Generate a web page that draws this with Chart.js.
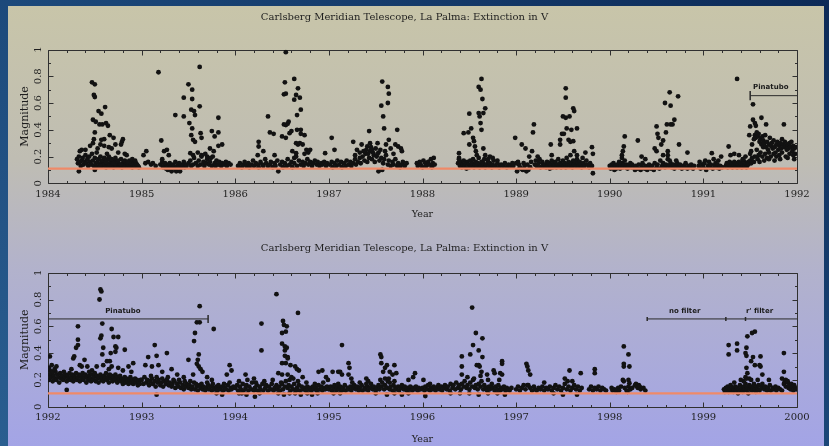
<!DOCTYPE html>
<html><head><meta charset="utf-8">
<script src="https://cdn.jsdelivr.net/npm/chart.js@4.4.1/dist/chart.umd.min.js"></script>
<style>
html,body{margin:0;padding:0;}
body{width:829px;height:446px;overflow:hidden;position:relative;background:linear-gradient(30deg,#2a5e90 0%,#1d4b7d 45%,#0c2a57 100%);}
#panel{position:absolute;left:8px;top:6px;width:816px;height:440px;background:linear-gradient(to bottom,#c8c5a9 0%,#bfbdb3 35%,#b2b2cc 60%,#a3a4e6 100%);}
canvas{position:absolute;left:0;}
#c1{top:0;} #c2{top:222px;}
</style></head><body>
<div id="panel"></div>
<canvas id="c1" width="829" height="222" style="width:829px;height:222px"></canvas>
<canvas id="c2" width="829" height="224" style="width:829px;height:224px"></canvas>
<script>
// ---------- data: [decimal year, extinction magnitude] ----------
const t1984 = [[1984.31,.18],[1984.32,.15],[1984.33,.2],[1984.34,.16],[1984.35,.13],[1984.36,.17],[1984.37,.19],[1984.38,.14],[1984.39,.16],[1984.40,.21],[1984.41,.15],[1984.42,.18],[1984.43,.13],[1984.44,.2],[1984.45,.16],[1984.46,.14],[1984.47,.22],[1984.48,.17],[1984.49,.13],[1984.50,.19],[1984.51,.15],[1984.52,.12],[1984.53,.16],[1984.54,.18],[1984.55,.14],[1984.56,.2],[1984.57,.15],[1984.58,.13],[1984.59,.17],[1984.60,.14],[1984.61,.16],[1984.62,.12],[1984.63,.15],[1984.64,.18],[1984.65,.13],[1984.66,.14],[1984.67,.16],[1984.68,.13],[1984.69,.15],[1984.70,.12],[1984.71,.17],[1984.72,.14],[1984.73,.13],[1984.74,.16],[1984.75,.15],[1984.76,.13],[1984.77,.14],[1984.78,.18],[1984.79,.12],[1984.80,.15],[1984.81,.14],[1984.82,.13],[1984.83,.16],[1984.84,.15],[1984.85,.13],[1984.86,.14],[1984.87,.17],[1984.88,.13],[1984.89,.15],[1984.90,.12],[1984.91,.14],[1984.92,.16],[1984.93,.13],[1984.94,.15],[1984.95,.14],[1984.96,.13],[1984.97,.12],[1984.56,.13],[1984.58,.17],[1984.60,.19],[1984.62,.16],[1984.65,.2],[1984.68,.18],[1984.70,.15],[1984.72,.19],[1984.75,.17],[1984.78,.14],[1984.82,.17],[1984.85,.16],[1984.90,.18],[1984.93,.17],[1984.34,.24],[1984.36,.25],[1984.40,.25],[1984.33,.09],[1984.50,.1],[1984.47,.755],[1984.50,.74],[1984.49,.66],[1984.50,.645],[1984.54,.54],[1984.57,.52],[1984.61,.57],[1984.48,.475],[1984.51,.46],[1984.55,.44],[1984.58,.44],[1984.62,.45],[1984.64,.43],[1984.50,.38],[1984.49,.33],[1984.57,.325],[1984.60,.33],[1984.56,.29],[1984.60,.28],[1984.65,.27],[1984.68,.26],[1984.53,.26],[1984.48,.3],[1984.66,.36],[1984.70,.34],[1984.80,.33],[1984.79,.31],[1984.78,.29],[1984.72,.29],[1984.82,.22],[1984.84,.21],[1984.75,.23],[1984.63,.22],[1984.52,.23],[1984.45,.28]];
const t1985 = [[1985.02,.21],[1985.05,.24],[1985.04,.15],[1985.07,.16],[1985.10,.14],[1985.12,.15],[1985.15,.13],[1985.18,.83],[1985.21,.32],[1985.20,.14],[1985.22,.16],[1985.23,.12],[1985.24,.13],[1985.25,.15],[1985.26,.11],[1985.27,.14],[1985.28,.1],[1985.29,.13],[1985.30,.15],[1985.31,.12],[1985.32,.09],[1985.33,.14],[1985.34,.13],[1985.35,.11],[1985.36,.16],[1985.37,.09],[1985.38,.13],[1985.39,.12],[1985.40,.15],[1985.41,.09],[1985.42,.14],[1985.43,.12],[1985.44,.13],[1985.45,.16],[1985.46,.12],[1985.47,.14],[1985.48,.13],[1985.50,.15],[1985.52,.17],[1985.53,.13],[1985.55,.14],[1985.56,.19],[1985.58,.15],[1985.60,.13],[1985.61,.17],[1985.63,.14],[1985.64,.2],[1985.66,.16],[1985.67,.13],[1985.69,.15],[1985.70,.18],[1985.72,.14],[1985.73,.16],[1985.75,.13],[1985.76,.2],[1985.78,.15],[1985.79,.13],[1985.80,.17],[1985.82,.14],[1985.83,.16],[1985.85,.13],[1985.86,.15],[1985.88,.14],[1985.90,.16],[1985.91,.13],[1985.93,.15],[1985.95,.14],[1985.24,.24],[1985.27,.25],[1985.29,.21],[1985.22,.18],[1985.50,.74],[1985.54,.7],[1985.45,.64],[1985.54,.63],[1985.62,.87],[1985.62,.575],[1985.53,.55],[1985.56,.54],[1985.57,.51],[1985.36,.51],[1985.45,.5],[1985.51,.45],[1985.54,.41],[1985.53,.36],[1985.55,.325],[1985.57,.31],[1985.63,.375],[1985.64,.34],[1985.82,.49],[1985.75,.39],[1985.78,.35],[1985.82,.38],[1985.86,.29],[1985.82,.28],[1985.73,.26],[1985.77,.24],[1985.64,.21],[1985.68,.22],[1985.52,.225],[1985.55,.21],[1985.60,.23],[1985.70,.2],[1985.74,.19]];
const t1986 = [[1986.03,.13],[1986.05,.15],[1986.07,.12],[1986.09,.14],[1986.10,.16],[1986.12,.13],[1986.14,.15],[1986.15,.12],[1986.17,.14],[1986.19,.17],[1986.20,.13],[1986.22,.15],[1986.24,.14],[1986.25,.12],[1986.27,.16],[1986.29,.14],[1986.30,.13],[1986.32,.18],[1986.33,.15],[1986.35,.13],[1986.37,.14],[1986.38,.16],[1986.40,.12],[1986.42,.15],[1986.43,.13],[1986.45,.17],[1986.46,.09],[1986.48,.14],[1986.50,.16],[1986.51,.12],[1986.53,.15],[1986.55,.13],[1986.56,.18],[1986.58,.14],[1986.60,.16],[1986.61,.12],[1986.63,.15],[1986.65,.2],[1986.66,.13],[1986.68,.17],[1986.70,.14],[1986.72,.16],[1986.73,.13],[1986.75,.15],[1986.77,.18],[1986.78,.14],[1986.80,.16],[1986.82,.13],[1986.83,.15],[1986.85,.17],[1986.87,.14],[1986.88,.16],[1986.90,.13],[1986.92,.15],[1986.93,.14],[1986.95,.16],[1986.97,.13],[1986.98,.15],[1986.25,.275],[1986.25,.31],[1986.35,.5],[1986.37,.38],[1986.41,.37],[1986.24,.21],[1986.30,.24],[1986.42,.21],[1986.54,.98],[1986.53,.755],[1986.63,.78],[1986.52,.665],[1986.54,.67],[1986.65,.66],[1986.63,.625],[1986.67,.71],[1986.69,.64],[1986.70,.55],[1986.66,.51],[1986.52,.44],[1986.54,.435],[1986.56,.445],[1986.57,.46],[1986.50,.35],[1986.54,.34],[1986.58,.375],[1986.60,.39],[1986.66,.4],[1986.65,.3],[1986.67,.29],[1986.61,.24],[1986.65,.225],[1986.63,.19],[1986.70,.4],[1986.74,.36],[1986.70,.37],[1986.69,.3],[1986.72,.29],[1986.76,.25],[1986.80,.25],[1986.78,.23],[1986.74,.22],[1986.96,.225]];
const t1987 = [[1987.01,.14],[1987.03,.16],[1987.04,.12],[1987.06,.15],[1987.08,.13],[1987.09,.17],[1987.11,.14],[1987.13,.16],[1987.14,.12],[1987.16,.15],[1987.18,.13],[1987.19,.17],[1987.21,.14],[1987.23,.16],[1987.24,.13],[1987.26,.15],[1987.28,.18],[1987.29,.14],[1987.31,.16],[1987.33,.19],[1987.34,.15],[1987.36,.2],[1987.38,.17],[1987.39,.22],[1987.41,.16],[1987.43,.19],[1987.44,.24],[1987.46,.18],[1987.48,.21],[1987.49,.16],[1987.51,.2],[1987.53,.23],[1987.54,.17],[1987.56,.19],[1987.58,.15],[1987.59,.18],[1987.61,.21],[1987.63,.14],[1987.64,.17],[1987.66,.13],[1987.68,.16],[1987.69,.14],[1987.71,.18],[1987.73,.13],[1987.74,.15],[1987.76,.12],[1987.78,.14],[1987.79,.16],[1987.81,.13],[1987.83,.15],[1987.53,.09],[1987.57,.1],[1987.40,.25],[1987.42,.22],[1987.45,.27],[1987.47,.23],[1987.50,.26],[1987.52,.22],[1987.55,.25],[1987.60,.24],[1987.37,.24],[1987.33,.23],[1987.03,.34],[1987.06,.25],[1987.26,.31],[1987.30,.25],[1987.28,.21],[1987.43,.39],[1987.35,.29],[1987.41,.275],[1987.44,.3],[1987.46,.25],[1987.52,.3],[1987.57,.76],[1987.63,.72],[1987.64,.67],[1987.63,.6],[1987.56,.58],[1987.58,.5],[1987.59,.41],[1987.61,.29],[1987.64,.325],[1987.73,.4],[1987.71,.29],[1987.74,.275],[1987.77,.26],[1987.78,.24],[1987.66,.26],[1987.69,.22]];
const t1988 = [[1987.94,.15],[1987.95,.13],[1987.97,.16],[1987.98,.14],[1988.00,.12],[1988.01,.17],[1988.03,.15],[1988.04,.13],[1988.06,.16],[1988.07,.14],[1988.09,.18],[1988.10,.12],[1988.11,.15],[1988.12,.19],[1988.13,.14],[1988.38,.15],[1988.39,.18],[1988.40,.13],[1988.41,.16],[1988.42,.12],[1988.43,.14],[1988.44,.17],[1988.45,.13],[1988.46,.15],[1988.47,.11],[1988.48,.16],[1988.49,.14],[1988.50,.12],[1988.51,.17],[1988.52,.13],[1988.53,.15],[1988.54,.18],[1988.55,.12],[1988.56,.14],[1988.57,.16],[1988.58,.13],[1988.59,.15],[1988.60,.19],[1988.61,.12],[1988.62,.14],[1988.63,.16],[1988.64,.13],[1988.65,.15],[1988.66,.18],[1988.67,.12],[1988.68,.14],[1988.70,.16],[1988.71,.13],[1988.72,.15],[1988.74,.12],[1988.75,.14],[1988.76,.17],[1988.78,.13],[1988.80,.15],[1988.82,.12],[1988.84,.14],[1988.86,.13],[1988.88,.15],[1988.90,.12],[1988.92,.14],[1988.94,.13],[1988.96,.15],[1988.39,.225],[1988.39,.19],[1988.44,.375],[1988.49,.38],[1988.52,.41],[1988.50,.52],[1988.50,.29],[1988.54,.34],[1988.55,.315],[1988.56,.275],[1988.57,.24],[1988.58,.21],[1988.60,.72],[1988.62,.7],[1988.63,.78],[1988.64,.63],[1988.60,.525],[1988.61,.5],[1988.65,.525],[1988.67,.56],[1988.62,.45],[1988.63,.4],[1988.65,.26],[1988.67,.21],[1988.70,.18],[1988.72,.2],[1988.75,.19],[1988.80,.17]];
const t1989 = [[1988.97,.13],[1988.99,.34],[1989.00,.15],[1989.01,.09],[1989.03,.14],[1989.04,.12],[1989.06,.29],[1989.07,.1],[1989.08,.15],[1989.09,.13],[1989.10,.26],[1989.11,.09],[1989.12,.14],[1989.14,.2],[1989.15,.12],[1989.16,.16],[1989.17,.24],[1989.19,.44],[1989.18,.38],[1989.20,.14],[1989.21,.17],[1989.22,.13],[1989.24,.15],[1989.25,.18],[1989.26,.12],[1989.28,.16],[1989.29,.14],[1989.30,.13],[1989.02,.16],[1989.05,.11],[1989.13,.1],[1989.23,.2],[1989.31,.14],[1989.32,.12],[1989.33,.16],[1989.34,.13],[1989.35,.15],[1989.36,.11],[1989.37,.14],[1989.38,.17],[1989.39,.12],[1989.40,.15],[1989.41,.13],[1989.42,.16],[1989.43,.12],[1989.44,.14],[1989.45,.18],[1989.46,.13],[1989.47,.15],[1989.48,.12],[1989.49,.14],[1989.50,.17],[1989.51,.13],[1989.52,.15],[1989.53,.12],[1989.54,.19],[1989.55,.14],[1989.56,.16],[1989.57,.13],[1989.58,.21],[1989.59,.15],[1989.60,.12],[1989.61,.17],[1989.62,.14],[1989.63,.16],[1989.64,.13],[1989.65,.18],[1989.66,.15],[1989.67,.13],[1989.68,.16],[1989.69,.14],[1989.70,.12],[1989.72,.15],[1989.73,.13],[1989.75,.17],[1989.76,.14],[1989.78,.12],[1989.79,.15],[1989.81,.13],[1989.37,.29],[1989.38,.21],[1989.47,.325],[1989.47,.29],[1989.49,.37],[1989.51,.37],[1989.50,.5],[1989.53,.49],[1989.53,.71],[1989.53,.64],[1989.61,.56],[1989.62,.54],[1989.57,.5],[1989.54,.41],[1989.59,.4],[1989.65,.41],[1989.56,.325],[1989.58,.31],[1989.61,.315],[1989.62,.24],[1989.65,.21],[1989.74,.23],[1989.71,.19],[1989.81,.27],[1989.82,.22],[1989.82,.075]];
const t1990 = [[1990.00,.13],[1990.01,.11],[1990.02,.14],[1990.03,.12],[1990.04,.15],[1990.05,.1],[1990.06,.13],[1990.07,.11],[1990.08,.14],[1990.09,.12],[1990.10,.16],[1990.11,.11],[1990.12,.13],[1990.13,.15],[1990.14,.12],[1990.15,.14],[1990.16,.35],[1990.15,.275],[1990.14,.24],[1990.13,.21],[1990.13,.19],[1990.16,.17],[1990.17,.12],[1990.18,.14],[1990.19,.11],[1990.20,.13],[1990.22,.15],[1990.23,.12],[1990.24,.14],[1990.30,.32],[1990.25,.12],[1990.27,.1],[1990.28,.13],[1990.30,.11],[1990.31,.14],[1990.33,.1],[1990.34,.12],[1990.35,.15],[1990.37,.11],[1990.38,.13],[1990.40,.1],[1990.41,.12],[1990.42,.14],[1990.44,.11],[1990.45,.13],[1990.47,.1],[1990.48,.15],[1990.50,.12],[1990.51,.14],[1990.53,.11],[1990.54,.17],[1990.56,.13],[1990.57,.15],[1990.59,.12],[1990.60,.14],[1990.62,.18],[1990.63,.13],[1990.65,.15],[1990.66,.12],[1990.68,.14],[1990.69,.11],[1990.71,.13],[1990.72,.15],[1990.74,.12],[1990.75,.14],[1990.77,.11],[1990.78,.13],[1990.80,.12],[1990.81,.15],[1990.83,.11],[1990.84,.13],[1990.86,.12],[1990.87,.14],[1990.89,.11],[1990.90,.13],[1990.34,.2],[1990.38,.18],[1990.50,.425],[1990.51,.37],[1990.52,.34],[1990.48,.26],[1990.50,.24],[1990.55,.29],[1990.57,.32],[1990.59,.6],[1990.60,.38],[1990.61,.44],[1990.64,.68],[1990.65,.58],[1990.67,.44],[1990.69,.475],[1990.65,.44],[1990.73,.65],[1990.57,.21],[1990.62,.21],[1990.64,.17],[1990.74,.29],[1990.83,.23],[1990.71,.17],[1990.62,.24]];
const t1991 = [[1990.95,.13],[1990.96,.16],[1990.97,.11],[1990.99,.14],[1991.00,.12],[1991.01,.15],[1991.02,.17],[1991.03,.1],[1991.05,.13],[1991.06,.16],[1991.07,.12],[1991.08,.14],[1991.09,.225],[1991.10,.11],[1991.11,.18],[1991.12,.13],[1991.13,.15],[1991.14,.12],[1991.15,.14],[1991.16,.17],[1991.17,.11],[1991.18,.13],[1991.19,.2],[1991.20,.12],[1991.24,.13],[1991.25,.15],[1991.26,.12],[1991.27,.275],[1991.27,.14],[1991.28,.16],[1991.29,.13],[1991.29,.21],[1991.30,.15],[1991.31,.12],[1991.32,.14],[1991.33,.16],[1991.33,.22],[1991.34,.13],[1991.35,.15],[1991.36,.78],[1991.36,.12],[1991.37,.14],[1991.38,.21],[1991.38,.16],[1991.39,.13],[1991.40,.15],[1991.41,.12],[1991.42,.14],[1991.43,.17],[1991.44,.13],[1991.45,.15],[1991.46,.12],[1991.47,.14],[1991.48,.16],[1991.45,.2],[1991.42,.18]];
const t1991p = [[1991.49,.36],[1991.50,.425],[1991.53,.59],[1991.53,.475],[1991.55,.45],[1991.56,.43],[1991.62,.49],[1991.67,.44],[1991.50,.22],[1991.51,.24],[1991.52,.29],[1991.54,.33],[1991.55,.36],[1991.56,.34],[1991.57,.38],[1991.58,.35],[1991.59,.37],[1991.60,.31],[1991.61,.33],[1991.62,.29],[1991.63,.35],[1991.64,.32],[1991.64,.27],[1991.65,.3],[1991.66,.36],[1991.67,.27],[1991.68,.31],[1991.69,.25],[1991.70,.29],[1991.71,.34],[1991.72,.28],[1991.73,.3],[1991.74,.26],[1991.75,.32],[1991.76,.27],[1991.77,.23],[1991.78,.29],[1991.79,.31],[1991.80,.25],[1991.81,.28],[1991.82,.3],[1991.83,.26],[1991.84,.33],[1991.86,.44],[1991.85,.29],[1991.86,.27],[1991.87,.31],[1991.88,.28],[1991.89,.25],[1991.90,.29],[1991.91,.26],[1991.92,.3],[1991.93,.27],[1991.94,.31],[1991.95,.24],[1991.96,.28],[1991.97,.26],[1991.98,.22],[1991.99,.27],[1991.55,.2],[1991.57,.25],[1991.59,.21],[1991.61,.23],[1991.63,.2],[1991.66,.22],[1991.68,.19],[1991.70,.23],[1991.72,.2],[1991.75,.22],[1991.78,.2],[1991.81,.21],[1991.84,.23],[1991.88,.2],[1991.92,.22],[1991.96,.21],[1991.50,.17],[1991.52,.19],[1991.54,.16],[1991.58,.18],[1991.60,.16],[1991.65,.17],[1991.70,.18],[1991.76,.17],[1991.82,.18],[1991.90,.19],[1991.97,.18],[1991.48,.14],[1991.51,.15]];

const b1992 = [[1992.00,.24],[1992.01,.2],[1992.02,.27],[1992.03,.22],[1992.04,.25],[1992.05,.19],[1992.06,.23],[1992.07,.21],[1992.08,.26],[1992.09,.2],[1992.10,.24],[1992.11,.22],[1992.12,.18],[1992.13,.25],[1992.14,.21],[1992.15,.23],[1992.16,.2],[1992.17,.26],[1992.18,.22],[1992.19,.24],[1992.20,.19],[1992.21,.23],[1992.22,.21],[1992.23,.25],[1992.24,.2],[1992.25,.22],[1992.26,.24],[1992.27,.19],[1992.28,.23],[1992.29,.21],[1992.30,.25],[1992.31,.2],[1992.32,.22],[1992.33,.24],[1992.34,.19],[1992.35,.23],[1992.36,.21],[1992.37,.25],[1992.38,.2],[1992.39,.22],[1992.40,.24],[1992.41,.18],[1992.42,.22],[1992.43,.2],[1992.44,.23],[1992.45,.21],[1992.46,.19],[1992.47,.24],[1992.48,.2],[1992.49,.22],[1992.50,.25],[1992.51,.19],[1992.52,.23],[1992.53,.21],[1992.54,.18],[1992.55,.22],[1992.56,.24],[1992.57,.2],[1992.58,.22],[1992.59,.19],[1992.60,.23],[1992.61,.21],[1992.62,.25],[1992.63,.2],[1992.64,.22],[1992.65,.18],[1992.66,.24],[1992.67,.21],[1992.68,.23],[1992.69,.19],[1992.70,.22],[1992.71,.2],[1992.72,.24],[1992.73,.21],[1992.74,.18],[1992.75,.22],[1992.76,.2],[1992.77,.23],[1992.78,.19],[1992.79,.21],[1992.80,.17],[1992.81,.2],[1992.82,.22],[1992.83,.18],[1992.84,.21],[1992.85,.19],[1992.86,.17],[1992.87,.2],[1992.88,.22],[1992.89,.18],[1992.90,.2],[1992.91,.17],[1992.92,.19],[1992.93,.21],[1992.94,.18],[1992.95,.2],[1992.96,.16],[1992.97,.19],[1992.98,.17],[1992.99,.2],[1992.02,.375],[1992.04,.31],[1992.01,.29],[1992.05,.26],[1992.07,.28],[1992.09,.3],[1992.20,.125],[1992.27,.36],[1992.32,.6],[1992.32,.5],[1992.32,.46],[1992.30,.44],[1992.28,.375],[1992.34,.31],[1992.36,.3],[1992.39,.35],[1992.25,.28],[1992.42,.3],[1992.56,.875],[1992.57,.86],[1992.55,.8],[1992.58,.62],[1992.57,.53],[1992.56,.51],[1992.59,.44],[1992.58,.39],[1992.59,.31],[1992.63,.34],[1992.68,.58],[1992.70,.52],[1992.72,.45],[1992.73,.44],[1992.75,.52],[1992.72,.41],[1992.67,.4],[1992.66,.34],[1992.68,.3],[1992.75,.29],[1992.82,.425],[1992.91,.325],[1992.86,.3],[1992.89,.26],[1992.80,.27],[1992.65,.28],[1992.47,.27],[1992.52,.3],[1992.44,.26]];
const b1993 = [[1993.00,.2],[1993.02,.17],[1993.03,.22],[1993.05,.18],[1993.06,.2],[1993.08,.16],[1993.09,.19],[1993.11,.21],[1993.12,.17],[1993.14,.19],[1993.15,.15],[1993.17,.18],[1993.18,.2],[1993.20,.16],[1993.21,.18],[1993.23,.15],[1993.24,.19],[1993.26,.17],[1993.27,.2],[1993.29,.16],[1993.30,.18],[1993.32,.15],[1993.33,.17],[1993.35,.19],[1993.36,.14],[1993.38,.17],[1993.39,.15],[1993.41,.18],[1993.42,.14],[1993.44,.16],[1993.45,.13],[1993.47,.15],[1993.48,.17],[1993.50,.14],[1993.51,.16],[1993.53,.13],[1993.54,.15],[1993.56,.18],[1993.57,.13],[1993.59,.15],[1993.60,.12],[1993.62,.16],[1993.63,.14],[1993.65,.13],[1993.66,.15],[1993.68,.12],[1993.69,.14],[1993.71,.16],[1993.72,.13],[1993.74,.15],[1993.75,.12],[1993.77,.14],[1993.78,.13],[1993.80,.15],[1993.81,.12],[1993.83,.14],[1993.84,.13],[1993.86,.15],[1993.87,.12],[1993.89,.14],[1993.90,.13],[1993.92,.16],[1993.93,.12],[1993.95,.14],[1993.96,.13],[1993.98,.15],[1993.10,.23],[1993.16,.22],[1993.22,.21],[1993.28,.22],[1993.34,.2],[1993.40,.2],[1993.46,.19],[1993.52,.19],[1993.58,.17],[1993.64,.17],[1993.70,.18],[1993.76,.17],[1993.82,.16],[1993.88,.17],[1993.94,.18],[1993.07,.37],[1993.14,.46],[1993.16,.38],[1993.27,.4],[1993.04,.31],[1993.11,.3],[1993.18,.31],[1993.32,.28],[1993.22,.26],[1993.16,.09],[1993.50,.35],[1993.56,.49],[1993.57,.55],[1993.62,.75],[1993.59,.63],[1993.62,.63],[1993.61,.39],[1993.60,.35],[1993.59,.32],[1993.61,.3],[1993.63,.28],[1993.65,.26],[1993.77,.58],[1993.55,.24],[1993.80,.1],[1993.86,.09],[1993.94,.31],[1993.96,.27],[1993.91,.24],[1993.70,.22],[1993.75,.2],[1993.45,.22],[1993.38,.24]];
const b1994 = [[1994.00,.14],[1994.02,.16],[1994.03,.12],[1994.05,.15],[1994.06,.13],[1994.08,.17],[1994.09,.12],[1994.11,.14],[1994.12,.16],[1994.14,.12],[1994.15,.15],[1994.17,.13],[1994.18,.18],[1994.20,.12],[1994.21,.14],[1994.23,.16],[1994.24,.12],[1994.26,.15],[1994.27,.13],[1994.29,.17],[1994.30,.12],[1994.32,.14],[1994.33,.16],[1994.35,.12],[1994.36,.15],[1994.38,.13],[1994.39,.17],[1994.41,.12],[1994.42,.14],[1994.44,.16],[1994.45,.13],[1994.47,.15],[1994.48,.12],[1994.50,.17],[1994.51,.13],[1994.53,.15],[1994.54,.19],[1994.56,.14],[1994.57,.16],[1994.59,.12],[1994.60,.15],[1994.62,.13],[1994.63,.17],[1994.65,.12],[1994.66,.14],[1994.68,.16],[1994.69,.12],[1994.71,.15],[1994.72,.13],[1994.74,.14],[1994.75,.12],[1994.77,.15],[1994.78,.13],[1994.80,.14],[1994.81,.12],[1994.83,.15],[1994.84,.13],[1994.86,.14],[1994.87,.12],[1994.89,.16],[1994.90,.13],[1994.92,.15],[1994.93,.12],[1994.95,.14],[1994.96,.13],[1994.98,.15],[1994.04,.19],[1994.13,.2],[1994.22,.18],[1994.31,.19],[1994.40,.2],[1994.49,.18],[1994.58,.2],[1994.67,.19],[1994.76,.18],[1994.85,.17],[1994.94,.18],[1994.07,.1],[1994.12,.09],[1994.21,.075],[1994.26,.1],[1994.46,.1],[1994.52,.09],[1994.58,.1],[1994.64,.1],[1994.70,.09],[1994.77,.1],[1994.82,.09],[1994.88,.1],[1994.04,.1],[1994.11,.24],[1994.20,.21],[1994.28,.62],[1994.28,.42],[1994.44,.84],[1994.51,.64],[1994.52,.61],[1994.54,.56],[1994.50,.55],[1994.55,.6],[1994.50,.47],[1994.53,.45],[1994.55,.44],[1994.53,.42],[1994.67,.7],[1994.53,.38],[1994.56,.37],[1994.50,.325],[1994.54,.325],[1994.59,.31],[1994.56,.36],[1994.64,.3],[1994.66,.28],[1994.68,.27],[1994.46,.25],[1994.50,.24],[1994.56,.24],[1994.60,.22],[1994.62,.21],[1994.72,.22],[1994.89,.26],[1994.93,.27],[1994.97,.22]];
const b1995 = [[1995.00,.13],[1995.02,.15],[1995.03,.12],[1995.05,.14],[1995.06,.16],[1995.08,.12],[1995.09,.14],[1995.11,.13],[1995.12,.15],[1995.14,.12],[1995.15,.14],[1995.17,.16],[1995.18,.12],[1995.20,.14],[1995.21,.13],[1995.23,.15],[1995.24,.12],[1995.26,.14],[1995.27,.16],[1995.29,.13],[1995.30,.15],[1995.32,.12],[1995.33,.14],[1995.35,.16],[1995.36,.12],[1995.38,.14],[1995.39,.13],[1995.41,.15],[1995.42,.12],[1995.44,.14],[1995.45,.17],[1995.47,.13],[1995.48,.15],[1995.50,.12],[1995.51,.14],[1995.53,.16],[1995.54,.13],[1995.56,.15],[1995.57,.18],[1995.59,.13],[1995.60,.16],[1995.62,.14],[1995.63,.19],[1995.65,.13],[1995.66,.15],[1995.68,.12],[1995.69,.16],[1995.71,.14],[1995.72,.13],[1995.74,.15],[1995.75,.12],[1995.77,.14],[1995.78,.16],[1995.80,.13],[1995.81,.15],[1995.83,.12],[1995.84,.14],[1995.86,.13],[1995.87,.15],[1995.89,.12],[1995.90,.14],[1995.92,.13],[1995.93,.15],[1995.95,.12],[1995.96,.14],[1995.98,.13],[1995.55,.2],[1995.60,.21],[1995.65,.18],[1995.70,.19],[1995.40,.17],[1995.25,.18],[1995.10,.17],[1995.05,.1],[1995.12,.1],[1995.50,.1],[1995.62,.09],[1995.70,.1],[1995.78,.09],[1995.85,.1],[1994.99,.2],[1995.04,.26],[1995.10,.26],[1995.14,.46],[1995.12,.26],[1995.14,.24],[1995.21,.325],[1995.22,.29],[1995.21,.24],[1995.24,.21],[1995.33,.18],[1995.40,.21],[1995.42,.19],[1995.55,.39],[1995.56,.37],[1995.56,.325],[1995.60,.29],[1995.58,.26],[1995.62,.31],[1995.65,.26],[1995.70,.31],[1995.72,.25],[1995.68,.24],[1995.64,.21],[1995.85,.2],[1995.90,.22],[1995.92,.25]];
const b1996 = [[1996.00,.14],[1996.02,.12],[1996.03,.15],[1996.05,.13],[1996.06,.16],[1996.08,.12],[1996.09,.14],[1996.11,.13],[1996.12,.15],[1996.14,.12],[1996.15,.14],[1996.17,.16],[1996.18,.13],[1996.20,.15],[1996.21,.12],[1996.23,.14],[1996.24,.16],[1996.26,.13],[1996.27,.15],[1996.29,.12],[1996.30,.17],[1996.32,.14],[1996.33,.16],[1996.35,.13],[1996.36,.18],[1996.38,.14],[1996.39,.16],[1996.41,.13],[1996.42,.17],[1996.44,.15],[1996.45,.19],[1996.47,.14],[1996.48,.16],[1996.50,.13],[1996.51,.18],[1996.53,.15],[1996.54,.2],[1996.56,.14],[1996.57,.16],[1996.59,.13],[1996.60,.17],[1996.62,.15],[1996.63,.19],[1996.65,.13],[1996.66,.16],[1996.68,.14],[1996.69,.12],[1996.71,.15],[1996.72,.13],[1996.74,.17],[1996.75,.14],[1996.77,.12],[1996.78,.15],[1996.80,.13],[1996.81,.16],[1996.83,.12],[1996.84,.14],[1996.86,.13],[1996.87,.15],[1996.89,.12],[1996.90,.14],[1996.92,.13],[1996.93,.12],[1996.95,.14],[1996.03,.08],[1996.30,.1],[1996.40,.1],[1996.50,.1],[1996.60,.09],[1996.70,.1],[1996.80,.1],[1996.88,.09],[1996.01,.2],[1996.08,.17],[1996.42,.375],[1996.42,.3],[1996.53,.74],[1996.54,.46],[1996.51,.39],[1996.57,.55],[1996.60,.42],[1996.64,.51],[1996.64,.37],[1996.58,.31],[1996.60,.31],[1996.61,.3],[1996.63,.26],[1996.62,.23],[1996.55,.21],[1996.48,.22],[1996.42,.24],[1996.69,.24],[1996.76,.27],[1996.77,.25],[1996.85,.34],[1996.85,.32],[1996.83,.25],[1996.85,.24],[1996.82,.2],[1996.70,.2]];
const b1997 = [[1997.00,.13],[1997.02,.15],[1997.04,.12],[1997.06,.14],[1997.08,.16],[1997.10,.13],[1997.12,.16],[1997.13,.16],[1997.15,.14],[1997.17,.12],[1997.19,.15],[1997.20,.13],[1997.22,.12],[1997.24,.14],[1997.26,.13],[1997.28,.15],[1997.30,.12],[1997.32,.14],[1997.34,.13],[1997.36,.15],[1997.38,.12],[1997.40,.14],[1997.42,.16],[1997.44,.13],[1997.46,.15],[1997.48,.12],[1997.50,.14],[1997.52,.17],[1997.54,.13],[1997.56,.15],[1997.58,.12],[1997.60,.14],[1997.62,.16],[1997.64,.13],[1997.66,.15],[1997.68,.12],[1997.70,.14],[1997.78,.13],[1997.80,.15],[1997.82,.12],[1997.84,.14],[1997.86,.13],[1997.88,.15],[1997.90,.12],[1997.92,.14],[1997.94,.13],[1997.96,.12],[1997.11,.32],[1997.12,.3],[1997.13,.27],[1997.15,.24],[1997.57,.27],[1997.52,.21],[1997.55,.19],[1997.69,.25],[1997.65,.09],[1997.84,.28],[1997.84,.25],[1997.50,.09],[1997.40,.1],[1997.60,.19],[1997.30,.18]];
const b1998 = [[1998.02,.14],[1998.03,.12],[1998.05,.13],[1998.07,.11],[1998.09,.14],[1998.10,.12],[1998.12,.15],[1998.15,.45],[1998.20,.39],[1998.15,.32],[1998.15,.3],[1998.21,.3],[1998.14,.2],[1998.15,.19],[1998.20,.2],[1998.21,.175],[1998.16,.14],[1998.18,.12],[1998.20,.15],[1998.22,.13],[1998.24,.14],[1998.27,.16],[1998.28,.17],[1998.29,.15],[1998.30,.14],[1998.31,.16],[1998.32,.15],[1998.33,.13],[1998.36,.14],[1998.38,.12],[1998.19,.11]];
const b1999 = [[1999.22,.13],[1999.23,.11],[1999.24,.14],[1999.25,.12],[1999.26,.15],[1999.27,.11],[1999.28,.13],[1999.29,.16],[1999.30,.12],[1999.31,.14],[1999.32,.11],[1999.33,.13],[1999.34,.15],[1999.35,.12],[1999.36,.14],[1999.37,.1],[1999.38,.13],[1999.39,.16],[1999.40,.12],[1999.41,.14],[1999.42,.11],[1999.43,.15],[1999.44,.13],[1999.45,.17],[1999.46,.12],[1999.47,.14],[1999.48,.1],[1999.49,.16],[1999.50,.13],[1999.51,.15],[1999.52,.12],[1999.53,.14],[1999.54,.17],[1999.55,.13],[1999.56,.11],[1999.57,.15],[1999.58,.13],[1999.59,.16],[1999.60,.12],[1999.62,.14],[1999.63,.17],[1999.65,.13],[1999.66,.15],[1999.68,.12],[1999.69,.14],[1999.71,.16],[1999.72,.12],[1999.74,.14],[1999.75,.13],[1999.77,.15],[1999.78,.12],[1999.80,.14],[1999.82,.13],[1999.84,.12],[1999.86,.17],[1999.87,.19],[1999.88,.15],[1999.90,.18],[1999.91,.14],[1999.92,.16],[1999.93,.13],[1999.94,.17],[1999.95,.15],[1999.96,.12],[1999.97,.16],[1999.98,.14],[1999.99,.13],[1999.27,.46],[1999.27,.39],[1999.36,.47],[1999.36,.42],[1999.45,.4],[1999.46,.38],[1999.46,.44],[1999.52,.55],[1999.55,.56],[1999.47,.525],[1999.51,.34],[1999.53,.37],[1999.55,.31],[1999.46,.29],[1999.47,.25],[1999.45,.22],[1999.46,.21],[1999.43,.19],[1999.49,.21],[1999.51,.2],[1999.61,.375],[1999.60,.31],[1999.61,.3],[1999.63,.24],[1999.70,.2],[1999.86,.4],[1999.86,.26],[1999.84,.21],[1999.88,.2],[1999.90,.19],[1999.40,.2],[1999.33,.18],[1999.58,.2]];

// axis ranges, reference extinction level, annotation marks
const topYears = [1984, 1992];
const bottomYears = [1992, 2000];
const yRange = [0, 1];
const topRefLevel = 0.11;
const bottomRefLevel = 0.10;
const markLevel = 0.655;
const topMarkSpan = [1991.5, 1992];
const bottomMarkSpanA = [1992, 1993.71];
const bottomMarkSpanB = [1998.4, 2000];
const bottomMarkTicks = [1998.4, 1999.24, 1999.45];
const topNotes = [['Pinatubo', 1991.72, 0.715]];
const bottomNotes = [['Pinatubo', 1992.8, 0.71], ['no filter', 1998.8, 0.71], ["r' filter", 1999.6, 0.71]];
const titleText = 'Carlsberg Meridian Telescope, La Palma: Extinction in V';

// ---------- drawing ----------
const INK = '#1f1f1f';
const framePlugin = {
  id: 'frame',
  beforeDatasetsDraw(chart) {
    const {ctx, chartArea: a, scales: {x, y}} = chart;
    const X0 = Math.round(a.left) + 0.5, X1 = Math.round(a.right) + 0.5;
    const Y0 = Math.round(a.top) + 0.5, Y1 = Math.round(a.bottom) + 0.5;
    ctx.save();
    ctx.strokeStyle = '#303030'; ctx.lineWidth = 1;
    ctx.beginPath();
    ctx.rect(X0, Y0, X1 - X0, Y1 - Y0);
    const nx = Math.round((x.max - x.min) / 0.2);
    for (let i = 0; i <= nx; i++) {
      const px = Math.round(x.getPixelForValue(x.min + i * 0.2)) + 0.5;
      const L = i % 5 === 0 ? 5 : 2.5;
      ctx.moveTo(px, Y1); ctx.lineTo(px, Y1 - L);
      ctx.moveTo(px, Y0); ctx.lineTo(px, Y0 + L);
    }
    for (let i = 0; i <= 10; i++) {
      const py = Math.round(y.getPixelForValue(i * 0.1)) + 0.5;
      const L = i % 2 === 0 ? 5 : 2.5;
      ctx.moveTo(X0, py); ctx.lineTo(X0 + L, py);
      ctx.moveTo(X1, py); ctx.lineTo(X1 - L, py);
    }
    ctx.stroke();
    ctx.restore();
  }
};
const notePlugin = {
  id: 'notes',
  afterDatasetsDraw(chart, args, opts) {
    const {ctx, scales: {x, y}} = chart;
    ctx.save();
    ctx.fillStyle = '#1a1a1a';
    ctx.font = 'bold 7px "DejaVu Sans"';
    ctx.textAlign = 'center'; ctx.textBaseline = 'middle';
    (opts.items || []).forEach(([t, xv, yv]) => ctx.fillText(t, x.getPixelForValue(xv), y.getPixelForValue(yv)));
    ctx.restore();
  }
};

function seg(points, w) {
  return {type: 'line', data: points.map(([x, y]) => ({x, y})), borderColor: '#2a2a2a', borderWidth: w || 1,
    pointRadius: 0, fill: false, order: 1};
}

function build(id, cfg) {
  const pts = cfg.seasons.flat().map(([x, y]) => ({x, y}));
  const datasets = [
    {type: 'scatter', data: pts, pointRadius: 2.4, pointBackgroundColor: '#121212', pointBorderWidth: 0, order: 3},
    {type: 'line', data: [{x: cfg.years[0], y: cfg.ref}, {x: cfg.years[1], y: cfg.ref}], borderColor: '#ef8a68',
      borderWidth: 2.3, pointRadius: 0, fill: false, order: 2},
    ...cfg.marks
  ];
  return new Chart(document.getElementById(id), {
    data: {datasets},
    options: {
      responsive: false, animation: false, devicePixelRatio: 1,
      layout: {padding: cfg.pad},
      plugins: {
        legend: {display: false}, tooltip: {enabled: false},
        title: {display: true, text: titleText, color: INK,
          font: {family: 'DejaVu Serif', size: 10, weight: 'normal', lineHeight: 1.14}, padding: {top: 4, bottom: cfg.titleGap}},
        notes: {items: cfg.notes}
      },
      scales: {
        x: {type: 'linear', position: 'bottom', min: cfg.years[0], max: cfg.years[1],
          grid: {display: false, drawTicks: false}, border: {display: false},
          ticks: {stepSize: 1, padding: 5, maxRotation: 0, color: INK, font: {family: 'DejaVu Serif', size: 10},
            callback: v => String(v)},
          title: {display: true, text: 'Year', color: INK, font: {family: 'DejaVu Serif', size: 9.5},
            padding: {top: 0, bottom: cfg.yearPad}},
          afterFit(s) { s.height = cfg.xH; }},
        y: {type: 'linear', position: 'left', min: yRange[0], max: yRange[1],
          grid: {display: false, drawTicks: false}, border: {display: false},
          ticks: {stepSize: 0.2, padding: 2, minRotation: 90, maxRotation: 90, crossAlign: 'center', color: INK,
            font: {family: 'DejaVu Serif', size: 10}, callback: v => String(Math.round(v * 10) / 10)},
          title: {display: true, text: 'Magnitude', color: INK, font: {family: 'DejaVu Serif', size: 11},
            padding: {top: 6.4, bottom: 0}},
          afterFit(s) { s.width = 36; }}
      }
    },
    plugins: [framePlugin, notePlugin]
  });
}

build('c1', {
  seasons: [t1984, t1985, t1986, t1987, t1988, t1989, t1990, t1991, t1991p],
  years: topYears, ref: topRefLevel, notes: topNotes,
  marks: [
    seg([[topMarkSpan[0], markLevel], [topMarkSpan[1], markLevel]]),
    seg([[topMarkSpan[0], markLevel - 0.035], [topMarkSpan[0], markLevel + 0.035]], 1.5)
  ],
  pad: {left: 12, right: 32, top: 8, bottom: 0}, titleGap: 26.1, xH: 38.7, yearPad: 1.3
});
build('c2', {
  seasons: [b1992, b1993, b1994, b1995, b1996, b1997, b1998, b1999],
  years: bottomYears, ref: bottomRefLevel, notes: bottomNotes,
  marks: [
    seg([[bottomMarkSpanA[0], markLevel], [bottomMarkSpanA[1], markLevel]]),
    seg([[bottomMarkSpanA[1], markLevel - 0.03], [bottomMarkSpanA[1], markLevel + 0.03]], 1.5),
    seg([[bottomMarkSpanB[0], markLevel], [bottomMarkSpanB[1], markLevel]]),
    ...bottomMarkTicks.map(t => seg([[t, markLevel - 0.015], [t, markLevel + 0.015]], 1.5))
  ],
  pad: {left: 12, right: 32, top: 16.3, bottom: 0}, titleGap: 19, xH: 39.3, yearPad: 0.3
});
</script>
</body></html>
